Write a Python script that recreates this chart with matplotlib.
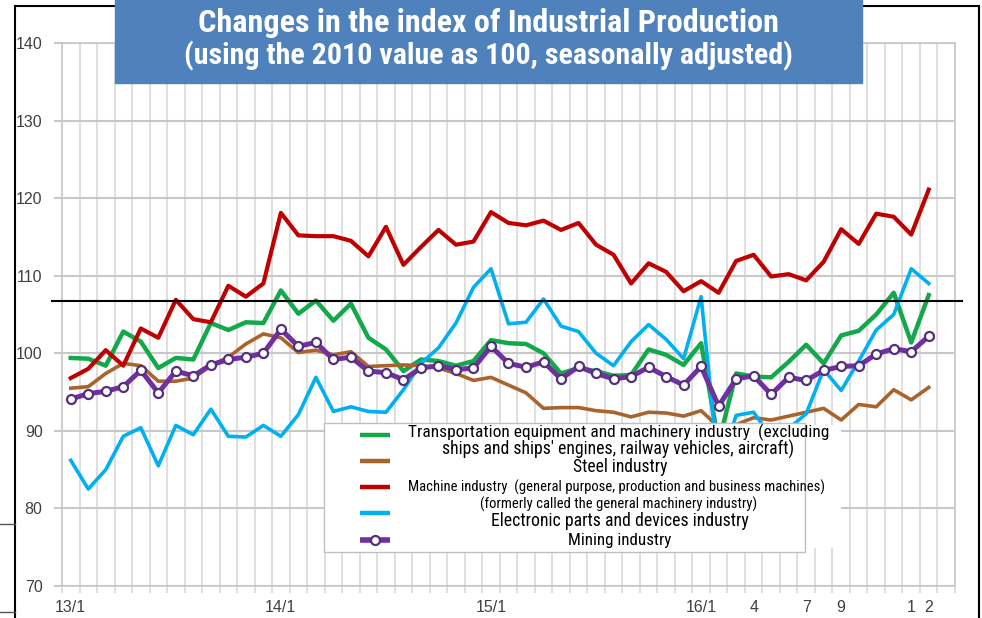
import matplotlib
matplotlib.use("Agg")
import matplotlib.pyplot as plt
from matplotlib import font_manager
from matplotlib.lines import Line2D
from matplotlib.patches import Rectangle
import numpy as np

W, H = 982, 618

# monthly index, 2013/1 .. 2017/2 (2010 = 100, seasonally adjusted)
tick_pos = [0, 12, 24, 36, 39, 42, 44, 48, 49]
tick_labels = ["13/1", "14/1", "15/1", "16/1", "4", "7", "9", "1", "2"]

transport = [99.4, 99.3, 98.4, 102.8, 101.5, 98.1, 99.4, 99.2, 103.9, 103.0,
             104.0, 103.9, 108.1, 105.1, 106.8, 104.2, 106.4, 102.0, 100.5, 97.7,
             99.2, 99.0, 98.4, 99.0, 101.7, 101.3, 101.2, 100.0, 97.4, 98.1,
             97.7, 97.1, 97.2, 100.5, 99.8, 98.5, 101.3, 88.5, 97.4, 97.0,
             96.9, 98.9, 101.1, 98.7, 102.3, 102.9, 105.0, 107.8, 101.4, 107.5]
steel = [95.5, 95.7, 97.4, 98.7, 98.4, 96.4, 96.4, 96.8, 98.4, 99.5,
         101.2, 102.5, 102.0, 100.1, 100.4, 99.8, 100.2, 98.3, 98.4, 98.5,
         98.4, 98.1, 97.4, 96.5, 96.9, 95.9, 94.9, 92.9, 93.0, 93.0,
         92.6, 92.4, 91.8, 92.4, 92.3, 91.9, 92.6, 90.5, 90.8, 91.7,
         91.4, 91.9, 92.4, 92.9, 91.4, 93.4, 93.1, 95.3, 94.0, 95.6]
machine = [96.8, 98.0, 100.4, 98.4, 103.2, 102.0, 106.9, 104.4, 104.0, 108.7,
           107.3, 109.0, 118.1, 115.2, 115.1, 115.1, 114.5, 112.5, 116.3, 111.4,
           113.7, 115.9, 114.0, 114.4, 118.2, 116.8, 116.5, 117.1, 115.9, 116.8,
           114.0, 112.7, 109.0, 111.6, 110.5, 108.0, 109.3, 107.8, 111.9, 112.7,
           109.9, 110.2, 109.4, 111.8, 116.0, 114.1, 118.0, 117.6, 115.3, 121.1]
electronic = [86.2, 82.5, 85.0, 89.3, 90.4, 85.5, 90.7, 89.5, 92.8, 89.3,
              89.2, 90.7, 89.3, 92.1, 96.9, 92.5, 93.1, 92.5, 92.4, 95.3,
              98.7, 100.7, 103.9, 108.5, 110.9, 103.8, 104.0, 107.0, 103.5, 102.8,
              100.0, 98.4, 101.5, 103.7, 101.8, 99.3, 107.3, 85.0, 92.0, 92.4,
              89.2, 90.3, 92.2, 97.9, 95.2, 99.0, 103.0, 105.0, 110.9, 109.0]
mining = [94.1, 94.8, 95.1, 95.7, 97.8, 94.9, 97.7, 97.1, 98.5, 99.2,
          99.5, 100.0, 103.1, 100.9, 101.4, 99.2, 99.5, 97.7, 97.5, 96.6,
          98.1, 98.4, 97.9, 98.1, 100.9, 98.7, 98.2, 98.9, 96.7, 98.3,
          97.4, 96.7, 97.0, 98.2, 97.0, 95.9, 98.3, 93.2, 96.7, 97.1,
          94.7, 96.9, 96.5, 97.8, 98.3, 98.4, 99.9, 100.6, 100.2, 102.2]
reference_level = 106.8

installed = {f.name for f in font_manager.fontManager.ttflist}
narrow = next((n for n in ["Liberation Sans Narrow", "Roboto Condensed",
                           "Open Sans Condensed", "Liberation Sans"] if n in installed),
              "DejaVu Sans")


def px(x, y):
    # pixel position (top-left origin) -> figure fraction
    return x / W, 1 - y / H


fig = plt.figure(figsize=(W / 100, H / 100), dpi=100)
renderer = fig.canvas.get_renderer()


def fit_text(x, y, s, width, **kw):
    t = fig.text(*px(x, y), s, ha="center", va="center", family=narrow, **kw)
    w = t.get_window_extent(renderer).width
    t.set_fontsize(t.get_fontsize() * width / w)
    return t


ax = fig.add_axes([62 / W, 1 - 586 / H, (955 - 62) / W, (586 - 43) / H])
x = np.arange(len(mining))

ax.plot(x, transport, color="#13A94A", lw=3.2, zorder=3)
ax.plot(x, steel, color="#A9642D", lw=2.6, zorder=3)
ax.plot(x, machine, color="#C00000", lw=3.0, zorder=3)
ax.plot(x, electronic, color="#00B0F0", lw=2.6, zorder=3)
ax.plot(x, mining, color="#7030A0", lw=3.6, marker="o", ms=6.5,
        mfc="white", mec="#55307A", mew=1.6, zorder=4)
ax.axhline(reference_level, xmin=-0.011, xmax=1.008, color="black",
           lw=1.5, clip_on=False, zorder=5)

ax.set_xlim(-0.5, 50.5)
ax.set_ylim(70, 140)
ax.set_yticks(range(70, 141, 10))
ax.set_xticks(tick_pos, tick_labels)
ax.set_xticks(np.arange(-0.5, 51, 1), minor=True)
ax.grid(axis="x", which="minor", color="#D9D9D9", lw=1.2)
ax.grid(axis="y", which="major", color="#C8C8C8", lw=1.5)
ax.set_axisbelow(True)
ax.tick_params(axis="x", which="major", length=0, pad=10,
               labelsize=11.5, labelcolor="#404040")
ax.tick_params(axis="x", which="minor", length=5, color="#D9D9D9", width=1.2)
ax.tick_params(axis="y", length=6, color="#C8C8C8", width=1.5, pad=8,
               labelsize=11.5, labelcolor="#404040")
for lab in ax.get_xticklabels() + ax.get_yticklabels():
    lab.set_family("Liberation Sans")
for sp in ax.spines.values():
    sp.set_color("#C8C8C8")
    sp.set_linewidth(1.2)

# outer frame of the slide
for (x0, y0), (x1, y1) in [((15, 6), (15, 618)), ((15, 6), (979, 6)),
                           ((979, 6), (979, 618))]:
    a, b = px(x0, y0), px(x1, y1)
    fig.add_artist(Line2D([a[0], b[0]], [a[1], b[1]], color="black", lw=1.5,
                          transform=fig.transFigure, zorder=2))
for yy in [524, 612]:
    a, b = px(0, yy), px(15, yy)
    fig.add_artist(Line2D([a[0], b[0]], [a[1], b[1]], color="#555555", lw=1,
                          transform=fig.transFigure, zorder=2))

# title box
fig.add_artist(Rectangle(px(115, 83), (862 - 115) / W, 83 / H,
                         transform=fig.transFigure, color="#4F81BD", zorder=10))
fit_text(488, 23, "Changes in the index of Industrial Production", 580,
         color="white", weight="bold", fontsize=20, zorder=11)
fit_text(488, 56, "(using the 2010 value as 100, seasonally adjusted)", 610,
         color="white", weight="bold", fontsize=20, zorder=11)

# legend
fig.add_artist(Rectangle(px(805, 548), 36 / W, 123 / H, transform=fig.transFigure,
                         facecolor="white", edgecolor="none", zorder=20))
fig.add_artist(Rectangle(px(324, 552), (805 - 324) / W, (552 - 423) / H,
                         transform=fig.transFigure, facecolor="white",
                         edgecolor="#BFBFBF", lw=1, zorder=20))
handles = [(435, "#13A94A", 3.2), (461, "#A9642D", 3.2), (487, "#C00000", 3.2),
           (513, "#00B0F0", 3.2), (540, "#7030A0", 4.0)]
for yy, col, lw in handles:
    a, b = px(360, yy), px(390, yy)
    fig.add_artist(Line2D([a[0], b[0]], [a[1], b[1]], color=col, lw=lw,
                          solid_capstyle="butt", transform=fig.transFigure, zorder=21))
mx, my = px(375, 540)
fig.add_artist(Line2D([mx], [my], marker="o", ms=6.5, mfc="white", mec="#55307A",
                      mew=1.6, transform=fig.transFigure, zorder=22))

legend_lines = [
    (619, 432, "Transportation equipment and machinery industry  (excluding", 418),
    (618, 449, "ships and ships' engines, railway vehicles, aircraft)", 350),
    (620, 467, "Steel industry", 94),
    (617, 487, "Machine industry  (general purpose, production and business machines)", 412),
    (619, 504, "(formerly called the general machinery industry)", 275),
    (620, 521, "Electronic parts and devices industry", 257),
    (620, 540, "Mining industry", 103),
]
for cx, cy, s, w in legend_lines:
    fit_text(cx, cy, s, w, color="black", fontsize=11, zorder=23)

fig.savefig("out.png", dpi=100)
